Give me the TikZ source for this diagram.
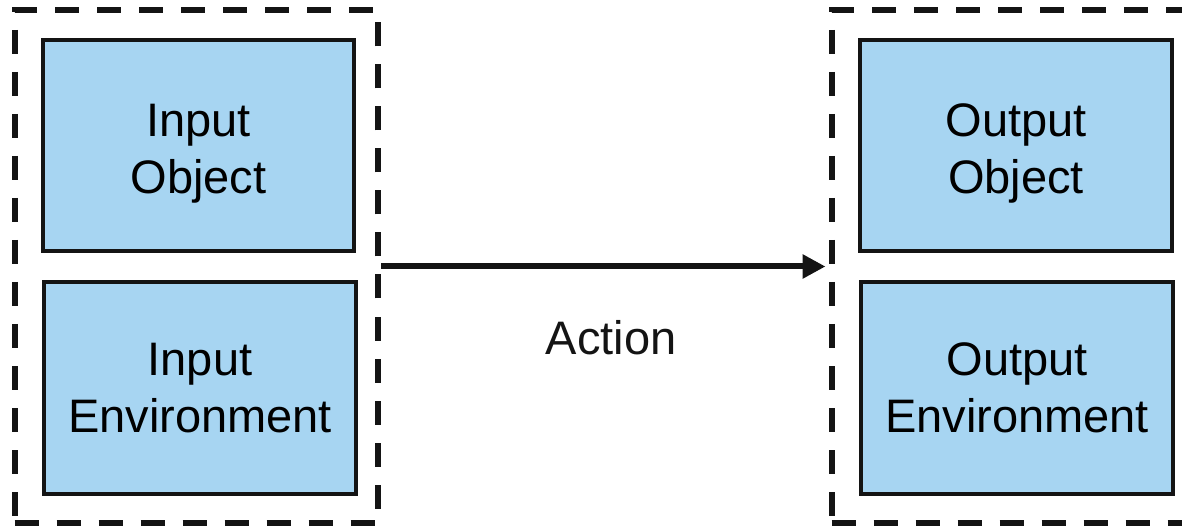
\documentclass[tikz,border=0pt]{standalone}
\usepackage{fontspec}
\setmainfont{Liberation Sans}
\usetikzlibrary{arrows.meta}
\definecolor{boxblue}{RGB}{167,213,242}
\definecolor{ink}{RGB}{20,20,20}
\tikzset{
  inbox/.style={draw=ink, fill=boxblue, line width=4pt, inner sep=0pt,
    align=center, font=\fontsize{47}{57}\selectfont},
  groupbox/.style={draw=ink, line width=6pt, dash pattern=on 24pt off 18pt,
    inner sep=0pt, minimum width=363.5pt, minimum height=513pt},
  flow/.style={draw=ink, line width=6pt, -{Triangle[length=23pt,width=23pt]}},
  lbl/.style={font=\fontsize{47}{57}\selectfont, text=ink}
}
\begin{document}
\begin{tikzpicture}[x=1pt,y=-1pt]
\useasboundingbox (0,0) rectangle (1182,526);
\clip (0,0) rectangle (1182,526);
\node[groupbox] (lg) at (196.25,266.5) {};
\node[groupbox] (rg) at (1013.25,266.5) {};
\node[inbox, minimum width=311pt, minimum height=211pt] (io) at (198.5,145.5) {\rule{0pt}{48pt}Input\\Object};
\node[inbox, minimum width=312pt, minimum height=212pt] (ie) at (200,388) {Input\\Environment};
\node[inbox, minimum width=312pt, minimum height=211pt] (oo) at (1016,145.5) {\rule{0pt}{48pt}Output\\Object};
\node[inbox, minimum width=312pt, minimum height=212pt] (oe) at (1017,388) {Output\\Environment};
\draw[flow, shorten >=3pt] (lg.east) -- (rg.west);
\node[lbl] (act) at (611,338) {Action};
\end{tikzpicture}
\end{document}
